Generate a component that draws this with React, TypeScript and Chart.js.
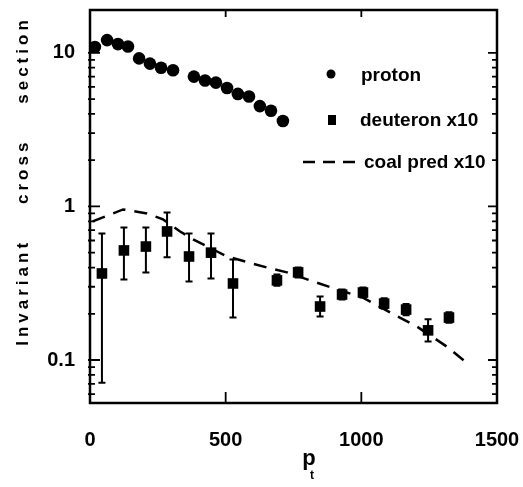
import React, { useEffect, useRef } from 'react';
import { Chart, registerables } from 'chart.js';

Chart.register(...registerables);

// ---- data ----
const protonP = [18, 63, 103, 140, 181, 221, 262, 306, 383, 424, 464, 505, 545, 586, 626, 667, 711];
const protonY = [10.9, 12.1, 11.4, 11.0, 9.2, 8.5, 8.0, 7.7, 7.0, 6.6, 6.4, 5.9, 5.4, 5.2, 4.5, 4.2, 3.6];

const deutP = [44, 125, 206, 284, 365, 446, 527, 689, 767, 848, 929, 1006, 1084, 1165, 1246, 1323];
const deutY = [0.366, 0.517, 0.548, 0.687, 0.472, 0.5, 0.315, 0.33, 0.372, 0.223, 0.267, 0.275, 0.233, 0.213, 0.156, 0.189];
const deutLo = [0.071, 0.334, 0.372, 0.466, 0.325, 0.34, 0.189, 0.305, 0.345, 0.192, 0.248, 0.255, 0.216, 0.196, 0.132, 0.175];
const deutHi = [0.667, 0.73, 0.73, 0.914, 0.667, 0.667, 0.452, 0.36, 0.40, 0.259, 0.288, 0.297, 0.252, 0.232, 0.184, 0.205];

const coalP = [10, 122, 210, 269, 332, 380, 505, 652, 726, 822, 910, 1006, 1106, 1205, 1316, 1401];
const coalY = [0.8, 0.956, 0.9, 0.823, 0.687, 0.61, 0.472, 0.4, 0.372, 0.325, 0.288, 0.255, 0.204, 0.165, 0.122, 0.092];

const xTicks = [0, 500, 1000, 1500];
const yTicks = [0.1, 1, 10];
const legendLabels = ['proton', 'deuteron x10', 'coal pred x10'];
const yTitleWords = 'Invariant    cross    section';
const xTitle = 'p';
const xTitleSub = 't';

const FONT = '"Liberation Sans", Arial, Helvetica, sans-serif';

const errorBars = {
  id: 'errorBars',
  afterDatasetsDraw(chart: any) {
    const { ctx, scales } = chart;
    const x = scales.x;
    const y = scales.y;
    ctx.save();
    ctx.strokeStyle = '#000';
    ctx.lineWidth = 2;
    for (let i = 0; i < deutP.length; i++) {
      const px = x.getPixelForValue(deutP[i]);
      const lo = y.getPixelForValue(deutLo[i]);
      const hi = y.getPixelForValue(deutHi[i]);
      ctx.beginPath();
      ctx.moveTo(px, lo);
      ctx.lineTo(px, hi);
      ctx.moveTo(px - 3.5, lo);
      ctx.lineTo(px + 3.5, lo);
      ctx.moveTo(px - 3.5, hi);
      ctx.lineTo(px + 3.5, hi);
      ctx.stroke();
    }
    ctx.restore();
  },
};

const frameAndDecor = {
  id: 'frameAndDecor',
  afterDraw(chart: any) {
    const { ctx, chartArea: a, scales } = chart;
    const x = scales.x;
    const y = scales.y;
    ctx.save();
    ctx.strokeStyle = '#000';
    ctx.fillStyle = '#000';
    ctx.lineWidth = 2.5;
    ctx.strokeRect(a.left, a.top, a.right - a.left, a.bottom - a.top);

    // log ticks on left and right axes
    ctx.lineWidth = 1.8;
    for (let d = -2; d <= 1; d++) {
      for (let m = 1; m <= 9; m++) {
        const v = m * Math.pow(10, d);
        if (v < y.min || v > y.max) continue;
        const py = y.getPixelForValue(v);
        const major = m === 1;
        ctx.beginPath();
        ctx.moveTo(a.left - 2, py);
        ctx.lineTo(a.left + (major ? 10 : 5), py);
        ctx.moveTo(a.right + 1, py);
        ctx.lineTo(a.right - (major ? 9 : 5), py);
        ctx.stroke();
      }
    }
    // x ticks
    for (const v of [500, 1000]) {
      const px = x.getPixelForValue(v);
      ctx.beginPath();
      ctx.moveTo(px, a.bottom);
      ctx.lineTo(px, a.bottom - 11);
      ctx.moveTo(px, a.top);
      ctx.lineTo(px, a.top + 7);
      ctx.stroke();
    }

    // legend
    ctx.textAlign = 'left';
    ctx.textBaseline = 'middle';
    ctx.font = `bold 19px ${FONT}`;
    ctx.beginPath();
    ctx.arc(331, 74, 4.5, 0, Math.PI * 2);
    ctx.fill();
    ctx.fillText(legendLabels[0], 361, 76);
    ctx.fillRect(328, 115, 8, 10);
    ctx.fillText(legendLabels[1], 360, 121);
    ctx.lineWidth = 2.5;
    ctx.setLineDash([12, 8]);
    ctx.beginPath();
    ctx.moveTo(303, 162);
    ctx.lineTo(357, 162);
    ctx.stroke();
    ctx.setLineDash([]);
    ctx.fillText(legendLabels[2], 364, 163);

    // y title
    ctx.save();
    ctx.translate(23, 181);
    ctx.rotate(-Math.PI / 2);
    ctx.textAlign = 'center';
    ctx.font = `bold 17px ${FONT}`;
    (ctx as any).letterSpacing = '4px';
    ctx.fillText(yTitleWords, 0, 0);
    ctx.restore();

    // x title
    ctx.textAlign = 'center';
    ctx.font = `bold 22px ${FONT}`;
    ctx.fillText(xTitle, 309, 459);
    ctx.font = `bold 12px ${FONT}`;
    ctx.fillText(xTitleSub, 312, 476);
    ctx.restore();
  },
};

const zeroPad = (s: any) => {
  s.paddingTop = 0;
  s.paddingBottom = 0;
  s.paddingLeft = 0;
  s.paddingRight = 0;
};

export default function App() {
  const ref = useRef<HTMLCanvasElement>(null);
  useEffect(() => {
    if (!ref.current) return;
    const chart = new Chart(ref.current, {
      type: 'scatter',
      data: {
        datasets: [
          {
            label: legendLabels[0],
            data: protonP.map((p, i) => ({ x: p, y: protonY[i] })),
            pointStyle: 'circle',
            pointRadius: 6.3,
            backgroundColor: '#000',
            borderColor: '#000',
            borderWidth: 0,
          },
          {
            label: legendLabels[1],
            data: deutP.map((p, i) => ({ x: p, y: deutY[i] })),
            pointStyle: 'rect',
            pointRadius: 7.5,
            backgroundColor: '#000',
            borderColor: '#000',
            borderWidth: 0,
          },
          {
            label: legendLabels[2],
            data: coalP.map((p, i) => ({ x: p, y: coalY[i] })),
            showLine: true,
            pointRadius: 0,
            borderColor: '#000',
            borderWidth: 2.5,
            borderDash: [13, 9],
            fill: false,
            tension: 0,
          },
        ],
      },
      options: {
        responsive: false,
        animation: false,
        devicePixelRatio: 1,
        layout: { padding: { top: 10, right: 26, left: 0, bottom: 0 } },
        plugins: { legend: { display: false }, tooltip: { enabled: false } },
        scales: {
          x: {
            type: 'linear',
            min: 0,
            max: 1500,
            grid: { display: false, drawTicks: false },
            border: { display: false },
            afterFit: (s: any) => { s.height = 84; zeroPad(s); },
            afterBuildTicks: (s: any) => { s.ticks = xTicks.map((v) => ({ value: v })); },
            ticks: {
              padding: 25,
              color: '#000',
              font: { family: FONT, size: 20, weight: 'bold' },
              callback: (v: any) => String(v),
              maxRotation: 0,
            },
          },
          y: {
            type: 'logarithmic',
            min: 0.0525,
            max: 19,
            grid: { display: false, drawTicks: false },
            border: { display: false },
            afterFit: (s: any) => { s.width = 90; zeroPad(s); },
            afterBuildTicks: (s: any) => { s.ticks = yTicks.map((v) => ({ value: v })); },
            ticks: {
              padding: 15,
              color: '#000',
              font: { family: FONT, size: 20, weight: 'bold' },
              callback: (v: any) => String(v),
            },
          },
        },
      },
      plugins: [errorBars, frameAndDecor],
    } as any);
    return () => chart.destroy();
  }, []);
  return (
    <div style={{ position: 'fixed', left: 0, top: 0, width: 523, height: 487, background: '#fff' }}>
      <canvas ref={ref} width={523} height={487} style={{ display: 'block' }} />
    </div>
  );
}
